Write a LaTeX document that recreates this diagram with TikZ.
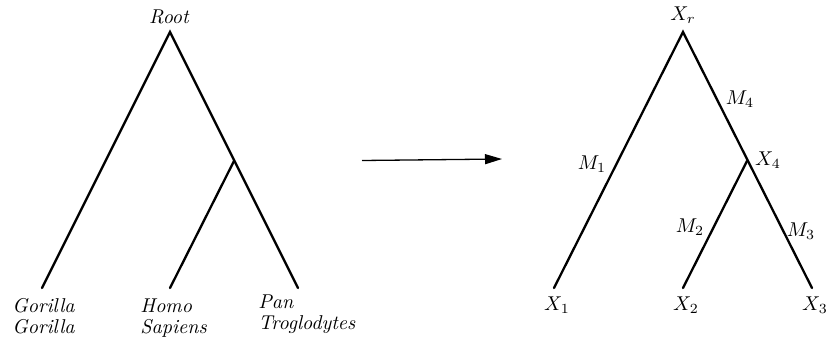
\documentclass[tikz,border=0pt]{standalone}
\usetikzlibrary{arrows.meta}
\begin{document}
\begin{tikzpicture}[x=0.5pt,y=-0.5pt,
  edge/.style={line width=1.15pt,line cap=round},
  lbl/.style={inner sep=0pt,font=\itshape,align=left,anchor=north west},
  mlbl/.style={inner sep=0pt}]
\useasboundingbox (0,0) rectangle (827,338);
% left tree
\coordinate (lr) at (170,32);
\coordinate (li) at (234,161);
\coordinate (lg) at (42,288);
\coordinate (lh) at (170,288);
\coordinate (lp) at (298,288);
\draw[edge] (lg) -- (lr) -- (lp);
\draw[edge] (lh) -- (li);
\node[mlbl,font=\itshape] (root) at (169,17) {Root};
\node[lbl] (gor) at (12,298) {Gorilla\\[-1.5pt]Gorilla};
\node[lbl] (hom) at (140,298) {Homo\\[-1.5pt]Sapiens};
\node[lbl] (pan) at (258,294) {Pan\\[-1.5pt]Troglodytes};
% arrow
\coordinate (as) at (362,160.5);
\coordinate (ae) at (502,159);
\draw[line width=0.65pt,-{Triangle[length=8.5pt,width=5pt]}] (as) -- (ae);
% right tree
\coordinate (rr) at (683,32);
\coordinate (ri) at (747,161);
\coordinate (r1) at (554,288);
\coordinate (r2) at (683,288);
\coordinate (r3) at (812,288);
\draw[edge] (r1) -- (rr) -- (r3);
\draw[edge] (r2) -- (ri);
\node[mlbl] (xr) at (683,15) {$X_r$};
\node[mlbl] (m4) at (740,99) {$M_4$};
\node[mlbl] (m1) at (592,164) {$M_1$};
\node[mlbl] (x4) at (768,160) {$X_4$};
\node[mlbl] (m2) at (690,227) {$M_2$};
\node[mlbl] (m3) at (801,231) {$M_3$};
\node[mlbl] (x1) at (557,305) {$X_1$};
\node[mlbl] (x2) at (686,305) {$X_2$};
\node[mlbl] (x3) at (815,305) {$X_3$};
\end{tikzpicture}
\end{document}
